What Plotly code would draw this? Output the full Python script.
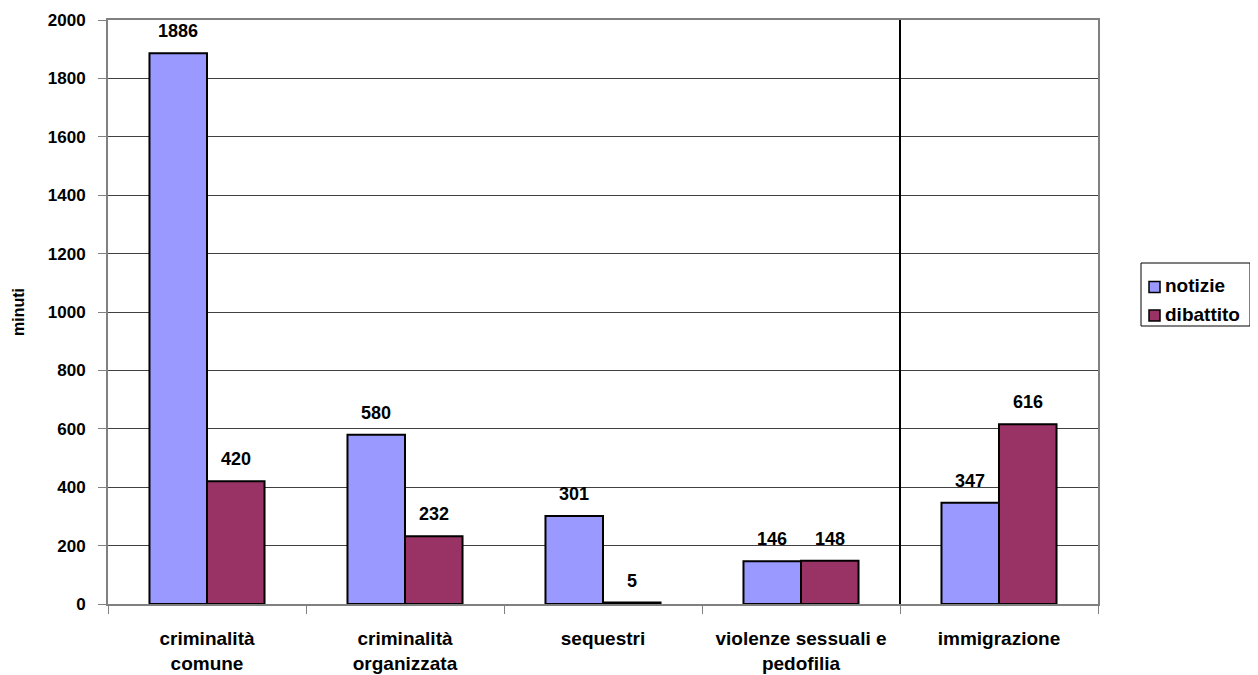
import plotly.graph_objects as go

categories = ["criminalità<br>comune", "criminalità<br>organizzata", "sequestri",
              "violenze sessuali e<br>pedofilia", "immigrazione"]
notizie = [1886, 580, 301, 146, 347]
dibattito = [420, 232, 5, 148, 616]
y_ticks = list(range(0, 2001, 200))
series_names = ["notizie", "dibattito"]
series_colors = ["#9999FF", "#993366"]

FONT = "Liberation Sans, Arial, sans-serif"
W, H = 1258, 675
ML, MR, MT, MB = 100, 168, 12, 79
OFF = 8  # page body offset


def px_x(sx):
    return (sx - OFF - ML) / (W - ML - MR)


def px_y(sy):
    return 1 - (sy - OFF - MT) / (H - MT - MB)


fig = go.Figure()
for name, vals, col in zip(series_names, [notizie, dibattito], series_colors):
    fig.add_trace(go.Bar(
        x=categories, y=vals, name=name,
        marker=dict(color=col, line=dict(color="black", width=2)),
        showlegend=False,
    ))

# value labels above bars
bar_px = (W - ML - MR) / len(categories) * (1 - 0.419) / 2
for i, vals in enumerate([notizie, dibattito]):
    shift = -bar_px / 2 if i == 0 else bar_px / 2
    for c, v in zip(categories, vals):
        fig.add_annotation(x=c, y=v, text=f"<b>{v}</b>", showarrow=False,
                           xshift=shift, yshift=22, yanchor="middle",
                           font=dict(family=FONT, size=18, color="black"))

fig.add_shape(type="line", xref="x", yref="paper", x0=3.5, x1=3.5, y0=0, y1=1,
              line=dict(color="black", width=2))

# y-axis title
fig.add_annotation(text="<b>minuti</b>", xref="paper", yref="paper", x=px_x(18), y=0.5,
                   xanchor="center", yanchor="middle", textangle=-90, showarrow=False,
                   font=dict(family=FONT, size=16, color="black"))

# legend (drawn manually to match the box)
fig.add_shape(type="rect", xref="paper", yref="paper",
              x0=px_x(1141), x1=px_x(1250), y0=px_y(326), y1=px_y(263),
              line=dict(color="black", width=1), fillcolor="white", layer="above")
for k, (name, col) in enumerate(zip(series_names, series_colors)):
    cy = 287 + k * 28.5
    fig.add_shape(type="rect", xref="paper", yref="paper",
                  x0=px_x(1149), x1=px_x(1160), y0=px_y(cy + 5.5), y1=px_y(cy - 5.5),
                  line=dict(color="black", width=1.5), fillcolor=col, layer="above")
    fig.add_annotation(text=f"<b>{name}</b>", xref="paper", yref="paper",
                       x=px_x(1163), y=px_y(cy - 1), xanchor="left", yanchor="middle",
                       showarrow=False, font=dict(family=FONT, size=19, color="black"))

fig.update_layout(
    width=W, height=H,
    margin=dict(l=ML, r=MR, t=MT, b=MB),
    paper_bgcolor="white", plot_bgcolor="white",
    barmode="group", bargap=0.419, bargroupgap=0,
    font=dict(family=FONT, size=18, color="black"),
    showlegend=False,
    xaxis=dict(
        type="category", range=[-0.5, 4.5], automargin=False,
        tickson="boundaries", ticks="outside", ticklen=8, tickcolor="#808080",
        showline=True, linecolor="#808080", linewidth=2, mirror=True,
        showgrid=False, ticklabelstandoff=16,
        tickfont=dict(family=FONT, size=19, color="black", weight="bold"),
    ),
    yaxis=dict(
        range=[0, 2000], tickvals=y_ticks, automargin=False,
        ticks="outside", ticklen=8, tickcolor="#808080",
        showline=True, linecolor="#808080", linewidth=2, mirror=True,
        showgrid=True, gridcolor="#404040", gridwidth=1,
        zeroline=False, ticklabelstandoff=9,
        tickfont=dict(family=FONT, size=17, color="black", weight="bold"),
    ),
)

fig.write_html("out.html")
